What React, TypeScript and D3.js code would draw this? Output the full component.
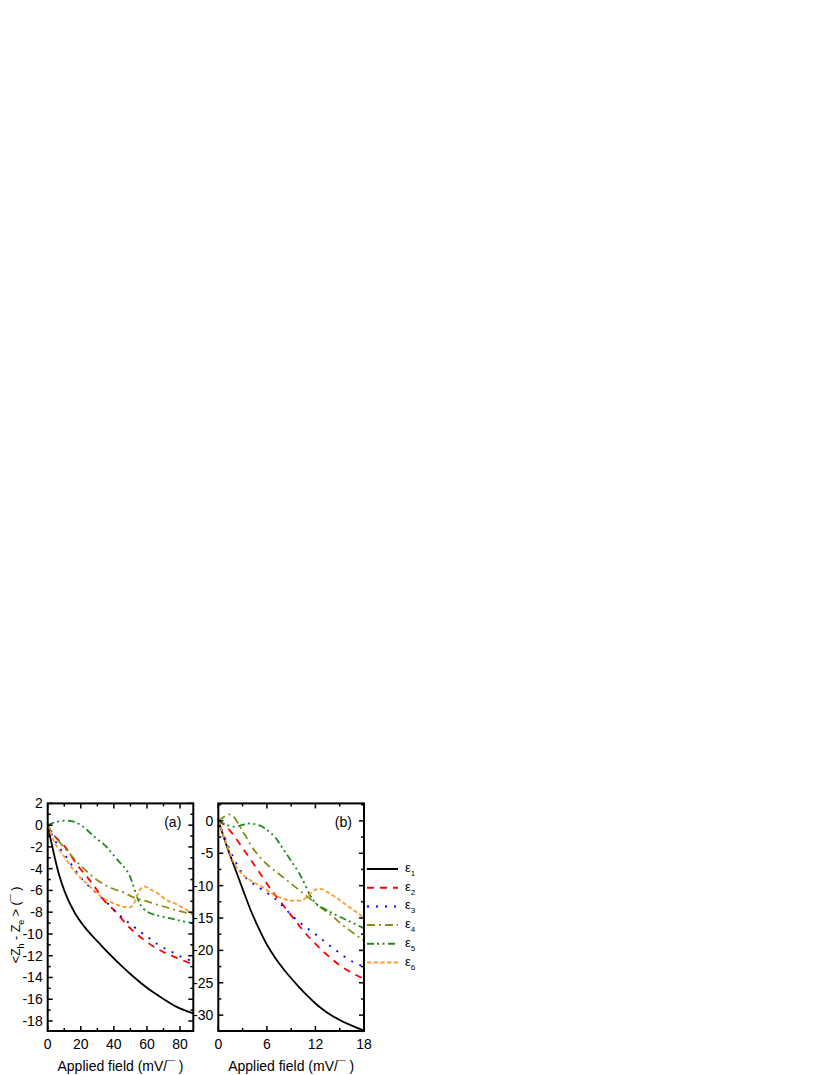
import React from "react";
import * as d3 from "d3";

type Pt = [number, number];

// ---- panel (a): applied field 0..88 mV/Å ----
const aE1: Pt[] = [[0, 0], [1.5, -1.1], [3.4, -2.4], [6.4, -4.3], [10.5, -6.2], [16.5, -8.1], [22.5, -9.4], [27.6, -10.3], [32, -11.0], [37.7, -11.9], [44, -12.85], [50.8, -13.8], [60, -14.95], [69.7, -15.95], [78, -16.7], [88, -17.3]];
const aE2: Pt[] = [[0, 0], [3, -0.8], [6.4, -1.35], [10.5, -2.0], [14.5, -2.9], [18.5, -3.8], [23, -4.6], [27.6, -5.5], [34.6, -7.0], [40.7, -7.9], [48.7, -9.3], [57.8, -10.5], [67.9, -11.5], [78, -12.2], [88, -12.8]];
const aE3: Pt[] = [[0, 0], [2, -0.7], [5.4, -1.66], [12.5, -3.2], [16.5, -4.1], [20.5, -4.9], [30.6, -6.4], [35.7, -7.1], [40.7, -7.9], [46.7, -8.7], [51.7, -9.3], [61.4, -10.4], [65.9, -10.9], [77, -11.8], [82, -12.2], [88, -12.5]];
const aE4: Pt[] = [[0, 0], [4.4, -1.05], [11.5, -2.3], [18.5, -3.5], [24, -4.3], [28.6, -4.9], [38.7, -5.8], [46, -6.2], [52.8, -6.7], [60, -7.0], [66, -7.3], [75, -7.7], [88, -8.2]];
const aE5: Pt[] = [[0, 0], [4, 0.25], [8, 0.38], [11, 0.42], [15, 0.35], [19, 0.1], [22.5, -0.28], [30, -1.3], [35, -1.9], [40, -2.8], [44, -3.5], [47, -4.0], [50, -4.8], [52, -5.7], [54, -6.6], [56, -7.3], [58, -7.7], [62, -8.1], [68, -8.35], [75, -8.6], [82, -8.85], [88, -9.0]];
const aE6: Pt[] = [[0, 0], [3.4, -1.35], [10.5, -3.0], [16.5, -4.3], [24.6, -5.5], [32.6, -6.6], [38.7, -7.1], [44.7, -7.45], [49.7, -7.55], [52.8, -7.0], [55.8, -5.9], [58.8, -5.65], [62, -5.9], [66.9, -6.3], [72, -6.9], [77, -7.2], [84, -7.8], [88, -8.1]];

// ---- panel (b): applied field 0..18 mV/Å ----
const bE1: Pt[] = [[0, 0], [1, -3.7], [2, -7.1], [3, -10.5], [4, -13.8], [5, -16.6], [6, -19.1], [7, -21.1], [8, -22.8], [9, -24.3], [10, -25.7], [11, -27.0], [12, -28.2], [13, -29.2], [14, -30.05], [15, -30.75], [16, -31.35], [17, -31.9], [18, -32.4]];
const bE2: Pt[] = [[0, 0], [1, -0.9], [2, -2.4], [3, -4.2], [4, -6.0], [5, -7.8], [6, -9.7], [7, -11.4], [8, -13.0], [9, -14.6], [10, -16.2], [11, -17.7], [12, -19.0], [13, -20.2], [14, -21.3], [15, -22.3], [16, -23.1], [17, -23.8], [18, -24.4]];
const bE3: Pt[] = [[0, 0], [0.5, -1.6], [1, -3.2], [1.5, -4.7], [2, -6.0], [2.5, -7.2], [3, -8.2], [4, -9.4], [5, -10.3], [6, -11.1], [7, -12.0], [8, -13.2], [9, -14.5], [10, -15.6], [11, -16.6], [12, -17.5], [13, -18.5], [14, -19.5], [15, -20.4], [16, -21.3], [17, -22.0], [18, -22.5]];
const bE4: Pt[] = [[0, 0], [0.8, 0.7], [1.4, 1.0], [2, 0.5], [2.5, -0.5], [3, -1.6], [3.5, -2.6], [4, -3.7], [5, -5.4], [6, -6.7], [7, -7.7], [8, -8.7], [9, -9.7], [10, -10.7], [11, -11.7], [12, -12.7], [13, -13.7], [14, -14.6], [15, -15.7], [16, -16.7], [17, -17.6], [18, -18.5]];
const bE5: Pt[] = [[0, 0], [1, -0.6], [2, -0.9], [2.5, -0.8], [3, -0.6], [3.8, -0.4], [4.5, -0.5], [5.3, -0.8], [6, -1.4], [7, -2.5], [8, -4.3], [9, -6.2], [10, -8.1], [10.7, -9.8], [11.3, -11.4], [12, -12.7], [12.5, -13.2], [13, -13.5], [14, -14.2], [15, -14.8], [16, -15.4], [17, -16.0], [18, -16.6]];
const bE6: Pt[] = [[0, 0], [0.5, -1.8], [1, -3.5], [1.5, -5.2], [2, -6.6], [2.5, -7.6], [3, -8.3], [4, -9.2], [5, -9.9], [6, -10.7], [7, -11.5], [8, -12.0], [9, -12.3], [10, -12.3], [10.7, -12.0], [11.3, -11.3], [12, -10.6], [12.6, -10.5], [13.5, -11.0], [14.5, -11.8], [15.5, -12.7], [16.5, -13.6], [17.3, -14.3], [18, -15.0]];

const legendLabels = ["1", "2", "3", "4", "5", "6"];

// axis ticks
const aXMajor = [0, 20, 40, 60, 80];
const aXMinor = [10, 30, 50, 70];
const aYMajor = [2, 0, -2, -4, -6, -8, -10, -12, -14, -16, -18];
const aYMinor = [1, -1, -3, -5, -7, -9, -11, -13, -15, -17];
const bXMajor = [0, 6, 12, 18];
const bXMinor = [3, 9, 15];
const bYMajor = [0, -5, -10, -15, -20, -25, -30];
const bYMinor = [2.5, -2.5, -7.5, -12.5, -17.5, -22.5, -27.5, -32.5];

const styles = [
  { color: "#000000", dash: "" },
  { color: "#ff0000", dash: "7,6" },
  { color: "#0000ff", dash: "2,7" },
  { color: "#8b8b1a", dash: "8,4,2,4" },
  { color: "#1a8a1a", dash: "7,3,2,3.5,2,3.5" },
  { color: "#ff9933", dash: "4.3,2.4" },
];

const FONT = "'Liberation Sans', Arial, Helvetica, sans-serif";
const TOP = 803.4;
const BOTTOM = 1031;

const Panel = ({ left, right, xDomain, yDomain, series, xMajor, xMinor, yMajor, yMinor, tag }: any) => {
  const x = d3.scaleLinear().domain(xDomain).range([left, right]);
  const y = d3.scaleLinear().domain(yDomain).range([BOTTOM, TOP]);
  const line = d3
    .line<Pt>()
    .x((d) => x(d[0]))
    .y((d) => y(d[1]))
    .curve(d3.curveMonotoneX);
  const maj = 5;
  const min = 3;
  return (
    <g>
      <defs>
        <clipPath id={`clip-${tag}`}>
          <rect x={left} y={TOP} width={right - left} height={BOTTOM - TOP} />
        </clipPath>
      </defs>
      <g clipPath={`url(#clip-${tag})`}>
        {series.map((s: Pt[], i: number) => (
          <path key={i} d={line(s) || ""} fill="none" stroke={styles[i].color} strokeWidth={1.8} strokeDasharray={styles[i].dash} />
        ))}
      </g>
      {xMajor.map((v: number) => (
        <g key={`xM${v}`}>
          <line x1={x(v)} x2={x(v)} y1={BOTTOM} y2={BOTTOM - maj} stroke="#000" strokeWidth={1.5} />
          <line x1={x(v)} x2={x(v)} y1={TOP} y2={TOP + maj} stroke="#000" strokeWidth={1.5} />
          <text x={x(v)} y={1048.5} textAnchor="middle" fontSize={14} fontFamily={FONT}>{v}</text>
        </g>
      ))}
      {xMinor.map((v: number) => (
        <g key={`xm${v}`}>
          <line x1={x(v)} x2={x(v)} y1={BOTTOM} y2={BOTTOM - min} stroke="#000" strokeWidth={1.5} />
          <line x1={x(v)} x2={x(v)} y1={TOP} y2={TOP + min} stroke="#000" strokeWidth={1.5} />
        </g>
      ))}
      {yMajor.map((v: number) => (
        <g key={`yM${v}`}>
          <line x1={left} x2={left + maj} y1={y(v)} y2={y(v)} stroke="#000" strokeWidth={1.5} />
          <line x1={right} x2={right - maj} y1={y(v)} y2={y(v)} stroke="#000" strokeWidth={1.5} />
          <text x={left - 5} y={y(v) + 5} textAnchor="end" fontSize={14} fontFamily={FONT}>{v}</text>
        </g>
      ))}
      {yMinor.map((v: number) => (
        <g key={`ym${v}`}>
          <line x1={left} x2={left + min} y1={y(v)} y2={y(v)} stroke="#000" strokeWidth={1.5} />
          <line x1={right} x2={right - min} y1={y(v)} y2={y(v)} stroke="#000" strokeWidth={1.5} />
        </g>
      ))}
      <rect x={left} y={TOP} width={right - left} height={BOTTOM - TOP} fill="none" stroke="#000" strokeWidth={2} />
      <text x={right - 12} y={827} textAnchor="end" fontSize={14} fontFamily={FONT}>({tag})</text>
      <text x={(left + right) / 2} y={1071} textAnchor="middle" fontSize={14} fontFamily={FONT}>Applied field (mV/¯ )</text>
    </g>
  );
};

export default function App() {
  return (
    <svg width={830} height={1075} style={{ position: "absolute", left: 0, top: 0, background: "#fff" }}>
      <Panel
        tag="a"
        left={47.7}
        right={193.3}
        xDomain={[0, 88]}
        yDomain={[-18.92, 2]}
        series={[aE1, aE2, aE3, aE4, aE5, aE6]}
        xMajor={aXMajor}
        xMinor={aXMinor}
        yMajor={aYMajor}
        yMinor={aYMinor}
      />
      <Panel
        tag="b"
        left={218.3}
        right={364}
        xDomain={[0, 18]}
        yDomain={[-32.45, 2.7]}
        series={[bE1, bE2, bE3, bE4, bE5, bE6]}
        xMajor={bXMajor}
        xMinor={bXMinor}
        yMajor={bYMajor}
        yMinor={bYMinor}
      />
      <text transform="translate(20,925) rotate(-90)" textAnchor="middle" fontSize={12.5} fontFamily={FONT} style={{ whiteSpace: "pre" }}>
        {"<Z"}
        <tspan fontSize={9} dy={3.5}>h</tspan>
        <tspan dy={-3.5}>{" - Z"}</tspan>
        <tspan fontSize={9} dy={3.5}>e</tspan>
        <tspan dy={-3.5}>{" > (¯ )"}</tspan>
      </text>
      {legendLabels.map((lab, i) => {
        const ly = 869 + i * 18.7;
        return (
          <g key={lab}>
            <line x1={367} x2={398} y1={ly} y2={ly} stroke={styles[i].color} strokeWidth={2} strokeDasharray={styles[i].dash} />
            <text x={405} y={ly + 3} fontSize={13} fontFamily={FONT}>
              ε<tspan fontSize={8} dy={4}>{lab}</tspan>
            </text>
          </g>
        );
      })}
    </svg>
  );
}
